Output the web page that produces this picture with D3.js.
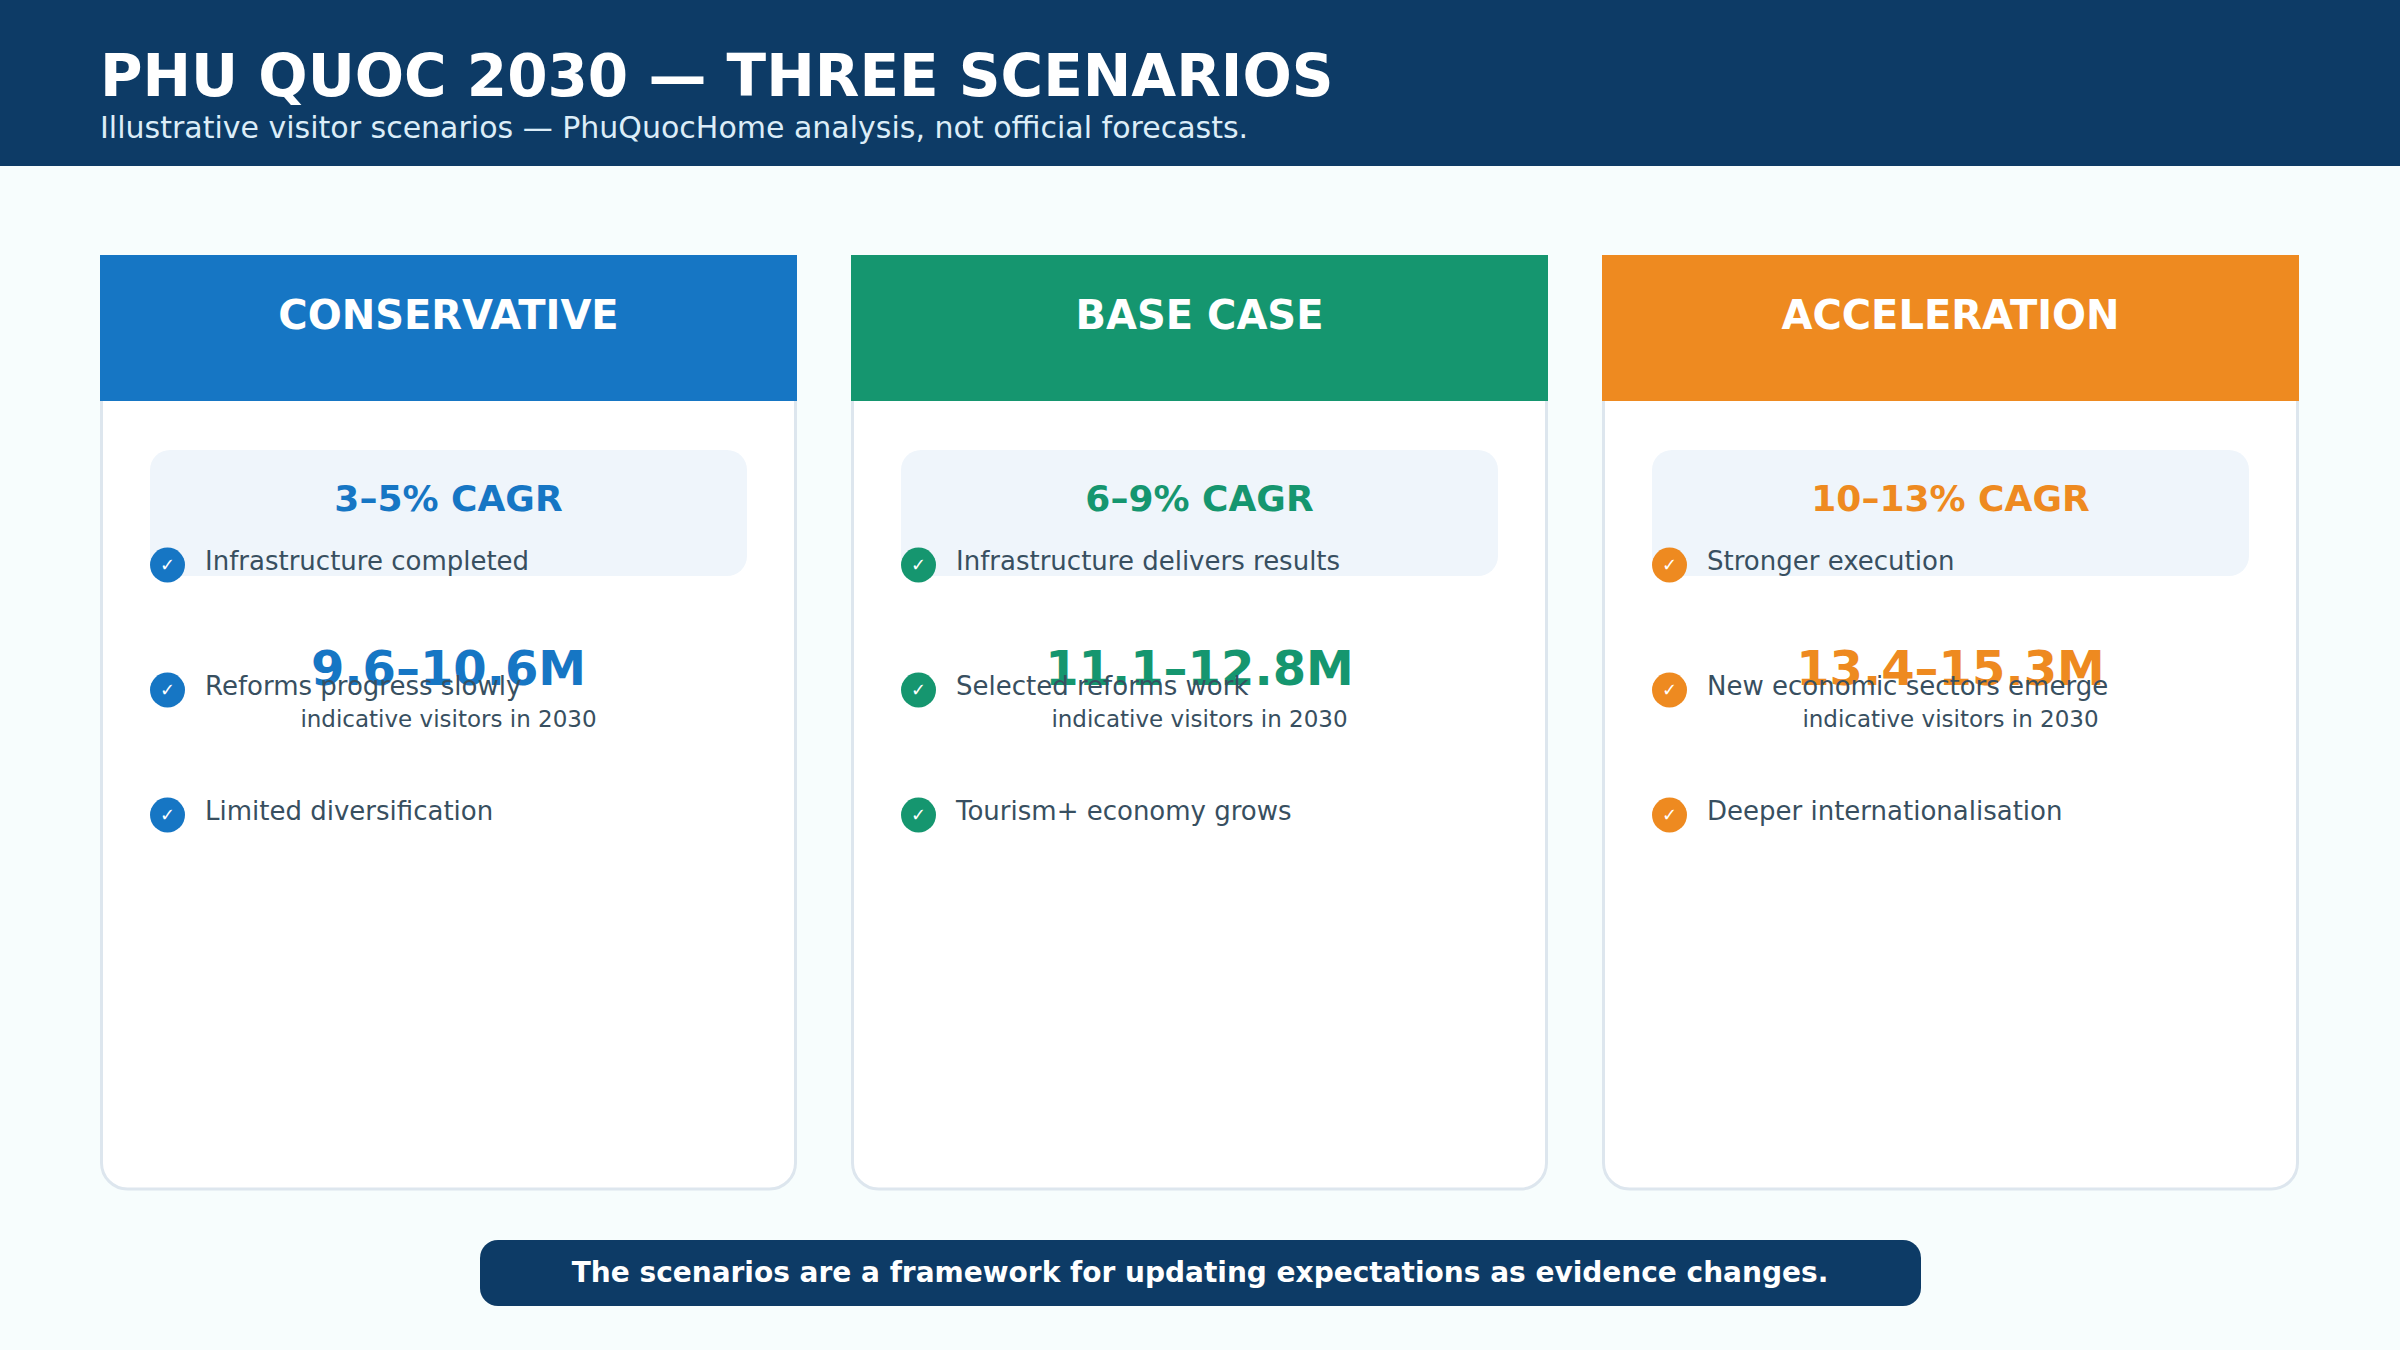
<!DOCTYPE html>
<html>
<head>
    <meta charset="utf-8">
    <style>
        html, body { margin: 0; padding: 0; background: #f7fdfd; }
        svg { display: block; }
        text { font-family: "DejaVu Sans", sans-serif; }
    </style>
</head>
<body>
    <svg width="2400" height="1350"></svg>
    <script src="https://d3js.org/d3.v7.min.js"></script>
    <script>
        const scenarios = ["CONSERVATIVE", "BASE CASE", "ACCELERATION"];
        const colours = ["#1676c4", "#15966f", "#ee8a20"];
        const cagrLabels = ["3–5% CAGR", "6–9% CAGR", "10–13% CAGR"];
        const visitorLabels = ["9.6–10.6M", "11.1–12.8M", "13.4–15.3M"];
        const bullets = [
            ["Infrastructure completed", "Reforms progress slowly", "Limited diversification"],
            ["Infrastructure delivers results", "Selected reforms work", "Tourism+ economy grows"],
            ["Stronger execution", "New economic sectors emerge", "Deeper internationalisation"]
        ];

        const svg = d3.select("svg");
        const navy = "#0d3b66";
        const inkColour = "#384f60";

        svg.append("rect").attr("width", 2400).attr("height", 166).attr("fill", navy);
        svg.append("text").attr("x", 100).attr("y", 96)
            .attr("font-size", 58).attr("font-weight", 700).attr("fill", "#fff")
            .text("PHU QUOC 2030 — THREE SCENARIOS");
        svg.append("text").attr("x", 100).attr("y", 138)
            .attr("font-size", 30).attr("fill", "#dcedf8")
            .text("Illustrative visitor scenarios — PhuQuocHome analysis, not official forecasts.");

        const x = d3.scaleBand().domain(scenarios).range([100, 2299]).paddingInner(54 / 751);
        const w = x.bandwidth();

        const cards = svg.selectAll("g.card")
            .data(scenarios)
            .enter()
            .append("g")
            .attr("class", "card")
            .attr("transform", d => `translate(${x(d)},0)`);

        cards.append("rect")
            .attr("x", 1.5).attr("y", 256.5).attr("width", w - 3).attr("height", 932.5)
            .attr("rx", 26).attr("fill", "#fff").attr("stroke", "#dde6ee").attr("stroke-width", 3);
        cards.append("rect")
            .attr("y", 255).attr("width", w).attr("height", 146)
            .attr("fill", (d, i) => colours[i]);
        cards.append("text")
            .attr("x", w / 2).attr("y", 329).attr("text-anchor", "middle")
            .attr("font-size", 40).attr("font-weight", 700).attr("fill", "#fff")
            .text(d => d);

        cards.append("rect")
            .attr("x", 50).attr("y", 450).attr("width", w - 100).attr("height", 126)
            .attr("rx", 20).attr("fill", "#eff5fb");
        cards.append("text")
            .attr("x", w / 2).attr("y", 511).attr("text-anchor", "middle")
            .attr("font-size", 36).attr("font-weight", 700)
            .attr("fill", (d, i) => colours[i])
            .text((d, i) => cagrLabels[i]);

        cards.append("text")
            .attr("x", w / 2).attr("y", 685).attr("text-anchor", "middle")
            .attr("font-size", 48).attr("font-weight", 700)
            .attr("fill", (d, i) => colours[i])
            .text((d, i) => visitorLabels[i]);
        cards.append("text")
            .attr("x", w / 2).attr("y", 727).attr("text-anchor", "middle")
            .attr("font-size", 23).attr("fill", inkColour)
            .text("indicative visitors in 2030");

        const rowY = d3.scalePoint().domain([0, 1, 2]).range([565, 815]);

        const rows = cards.selectAll("g.row")
            .data((d, i) => bullets[i].map((t, j) => ({t, j, colour: colours[i]})))
            .enter()
            .append("g")
            .attr("class", "row")
            .attr("transform", d => `translate(0,${rowY(d.j)})`);
        rows.append("circle")
            .attr("cx", 67.5).attr("r", 17.5)
            .attr("fill", d => d.colour);
        rows.append("text")
            .attr("x", 67.5).attr("y", 6).attr("text-anchor", "middle")
            .attr("font-size", 18).attr("fill", "#fff")
            .text("✓");
        rows.append("text")
            .attr("x", 105).attr("y", 5)
            .attr("font-size", 26).attr("fill", inkColour)
            .text(d => d.t);

        svg.append("rect")
            .attr("x", 480).attr("y", 1240).attr("width", 1441).attr("height", 66)
            .attr("rx", 18).attr("fill", navy);
        svg.append("text")
            .attr("x", 1200).attr("y", 1282).attr("text-anchor", "middle")
            .attr("font-size", 28).attr("font-weight", 700).attr("fill", "#fff")
            .text("The scenarios are a framework for updating expectations as evidence changes.");
    </script>
</body>
</html>
